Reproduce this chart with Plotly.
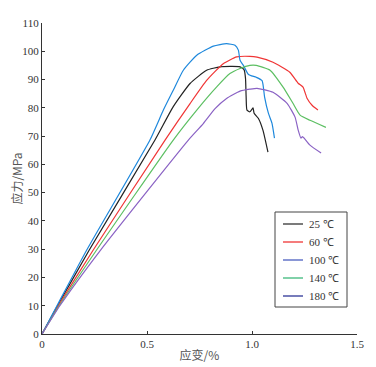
import plotly.graph_objects as go

# ---- data ----
labels = ["25 ℃", "60 ℃", "100 ℃", "140 ℃", "180 ℃"]
curve_colors = ["#222222", "#f03535", "#1e88dc", "#5cbf62", "#8a62c4"]
legend_colors = ["#333333", "#f03535", "#4b5fc0", "#3db87a", "#2e3596"]

x25 = [0, 0.078, 0.225, 0.538, 0.625, 0.705, 0.784, 0.848, 0.943, 0.962, 0.969, 0.972, 0.976,
       0.99, 1.0, 1.005, 1.01, 1.03, 1.052, 1.076]
y25 = [0, 10.5, 29.7, 68.6, 80.4, 88.6, 93.3, 94.5, 94.5, 93.5, 90.5, 84, 79.2,
       78.6, 79.5, 80, 78.1, 76.3, 72.1, 64.3]

x60 = [0, 0.08, 0.244, 0.586, 0.705, 0.784, 0.863, 0.927, 0.99, 1.024, 1.1, 1.18, 1.22, 1.243,
       1.262, 1.286, 1.314]
y60 = [0, 10.3, 29.7, 68.6, 81.5, 89.7, 95.6, 98, 98.2, 97.9, 96.1, 92.6, 88.7, 87.3,
       83.4, 80.9, 79.2]

x100 = [0, 0.075, 0.213, 0.514, 0.578, 0.625, 0.673, 0.737, 0.816, 0.879, 0.919, 0.935, 0.943,
        0.959, 0.983, 1.02, 1.048, 1.06, 1.078, 1.095, 1.107]
y100 = [0, 10.5, 29.7, 68.6, 79.2, 86.2, 93.3, 98.6, 101.8, 102.7, 102.1, 100.4, 96.8,
        95, 91.8, 90.8, 89.6, 83.8, 78.1, 74.6, 69.3]

x140 = [0, 0.082, 0.26, 0.625, 0.737, 0.832, 0.895, 0.943, 0.99, 1.02, 1.086, 1.148, 1.195,
        1.229, 1.276, 1.352]
y140 = [0, 10, 29.7, 68.6, 79.2, 87.4, 92.1, 93.9, 95, 95, 93.3, 87.3, 81.6,
        77.4, 75.6, 73.1]

x180 = [0, 0.085, 0.279, 0.697, 0.768, 0.824, 0.879, 0.943, 0.99, 1.024, 1.1, 1.167, 1.205,
        1.22, 1.233, 1.24, 1.248, 1.276, 1.329]
y180 = [0, 10, 29.7, 68.6, 74.4, 79.7, 83.3, 85.9, 86.6, 86.9, 85.5, 81.6, 76.7,
        72.1, 69.3, 69.8, 69.3, 66.8, 64]

xs = [x25, x60, x100, x140, x180]
ys = [y25, y60, y100, y140, y180]

x_ticks = [0, 0.5, 1.0, 1.5]
x_ticktext = ["0", "0.5", "1.0", "1.5"]
y_ticks = [0, 10, 20, 30, 40, 50, 60, 70, 80, 90, 100, 110]

SERIF = "Liberation Serif"
CJK = "Noto Sans CJK SC"

fig = go.Figure()
for xv, yv, c, lab in zip(xs, ys, curve_colors, labels):
    fig.add_trace(go.Scatter(x=xv, y=yv, mode="lines", name=lab,
                             line=dict(color=c, width=1.2, shape="spline", smoothing=0.5),
                             showlegend=False))

# page body has an 8px margin: work in window pixels and shift
OFF = 8
W, H = 376 - OFF, 367 - OFF
PL, PR, PT, PB = 42, 357, 23, 334          # plot area in window pixels
L, T = PL - OFF, PT - OFF
R, B = W - (PR - OFF), H - (PB - OFF)
pw, ph = PR - PL, PB - PT


def px(xp):
    return (xp - PL) / pw


def py(yp):
    return (PB - yp) / ph


shapes = [dict(type="rect", xref="paper", yref="paper",
               x0=px(275), x1=px(347), y0=py(307), y1=py(212),
               line=dict(color="#444444", width=1), fillcolor="white")]
annotations = []
for i, (lab, c) in enumerate(zip(labels, legend_colors)):
    yy = 224 + i * 18
    shapes.append(dict(type="line", xref="paper", yref="paper",
                       x0=px(283), x1=px(303), y0=py(yy), y1=py(yy),
                       line=dict(color=c, width=1.3)))
    annotations.append(dict(xref="paper", yref="paper", x=px(307), y=py(yy),
                            text=lab, showarrow=False, xanchor="left", yanchor="middle",
                            font=dict(family=SERIF, size=11, color="#333333")))

fig.update_layout(
    width=W, height=H,
    margin=dict(l=L, r=R, t=T, b=B, autoexpand=False),
    paper_bgcolor="white", plot_bgcolor="white",
    font=dict(family=SERIF),
    shapes=shapes, annotations=annotations,
    showlegend=False,
    xaxis=dict(range=[0, 1.5], tickvals=x_ticks, ticktext=x_ticktext,
               ticks="inside", ticklen=3, tickwidth=1, tickcolor="#333",
               showline=True, linecolor="#333", linewidth=1.2,
               showgrid=False, zeroline=False,
               tickfont=dict(family=SERIF, size=11, color="#333"),
               title=dict(text="应变/%", font=dict(family=CJK, size=12, color="#555"), standoff=2)),
    yaxis=dict(range=[0, 110], tickvals=y_ticks,
               ticks="inside", ticklen=3, tickwidth=1, tickcolor="#333",
               showline=True, linecolor="#333", linewidth=1.2,
               showgrid=False, zeroline=False,
               tickfont=dict(family=SERIF, size=11, color="#333"),
               title=dict(text="应力/MPa", font=dict(family=CJK, size=12, color="#555"), standoff=4)),
)

fig.write_html("out.html")
